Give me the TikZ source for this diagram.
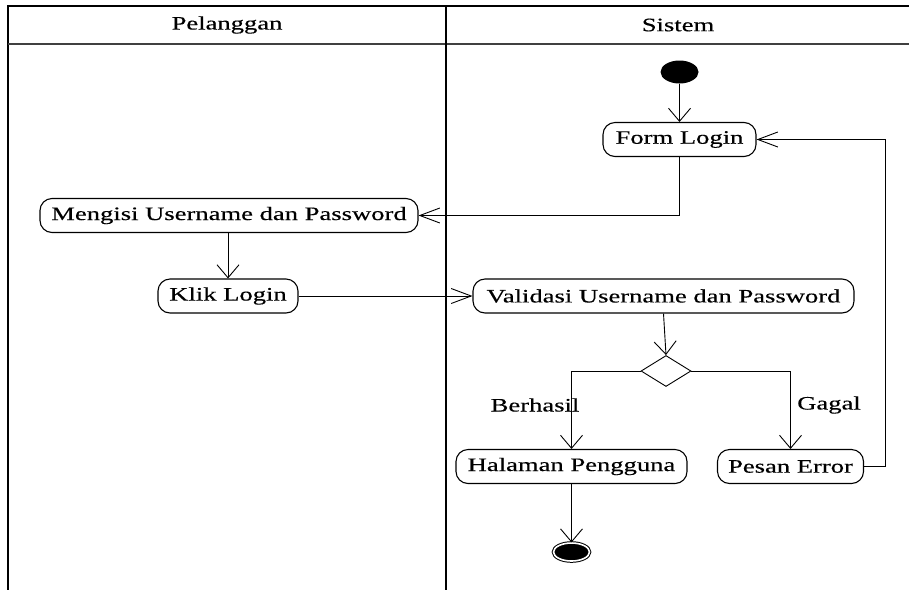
\documentclass[tikz,border=0pt]{standalone}
\usepackage{fontspec}
\usepackage{graphicx}
\setmainfont{Liberation Serif}[FakeBold=0.3]
\usetikzlibrary{arrows.meta,shapes.geometric}

% labels are set a little wider than the font's natural width
\newcommand{\wtext}[1]{\scalebox{1.4}[1]{#1}}

\tikzset{
  lbl/.style={font=\fontsize{19}{22}\selectfont, inner sep=0pt},
  act/.style={draw, rounded corners=12pt, minimum height=34pt, inner sep=0pt,
              line width=1.1pt, font=\fontsize{19}{22}\selectfont},
  lane/.style={line width=1.6pt},
  vconn/.style={line width=0.9pt, -{Straight Barb[length=13pt,width=22pt,line width=0.9pt]}},
  hconn/.style={line width=0.9pt, -{Straight Barb[length=20pt,width=15pt,line width=0.9pt]}},
}

\begin{document}
\begin{tikzpicture}[x=1pt,y=-1pt]
\useasboundingbox (0,0) rectangle (909,590);

% swimlane frame
\draw[lane] (909,6) -- (8,6) -- (8,590);
\draw[lane, black!75] (8,44) -- (909,44);
\draw[lane] (446,6) -- (446,590);
\node[lbl] (hcust) at (227,25) {\wtext{Pelanggan}};
\node[lbl] (hsys)  at (678,25) {\wtext{Sistem}};

% activities
\node[ellipse, fill=black, minimum width=38pt, minimum height=23pt, inner sep=0pt] (start) at (679.5,72) {};
\node[act, minimum width=153pt] (form)    at (679.5,139.5) {\wtext{Form Login}};
\node[act, minimum width=378pt] (mengisi) at (229,215.5) {\wtext{Mengisi Username dan Password}};
\node[act, minimum width=140pt] (klik)    at (228,296) {\wtext{Klik Login}};
\node[act, minimum width=381pt] (valid)   at (663.5,296) {\wtext{Validasi Username dan Password}};
\node[diamond, draw, line width=0.9pt, minimum width=50pt, minimum height=31pt, inner sep=0pt] (dec) at (666,371) {};
\node[act, minimum width=231pt] (halaman) at (571.5,466.5) {\wtext{Halaman Pengguna}};
\node[act, minimum width=146pt] (pesan)   at (790.5,466.5) {\wtext{Pesan Error}};
\node[ellipse, fill=black, draw, double, double distance=1.6pt, line width=1pt,
      minimum width=36pt, minimum height=18pt, inner sep=0pt] (stop) at (571.5,552) {};

% guards
\node[lbl] (gok)   at (535,405) {\wtext{Berhasil}};
\node[lbl] (gfail) at (829,405) {\wtext{Gagal}};

% flows
\coordinate (loopx) at (885,0);
\draw[vconn] (start) -- (form);
\draw[hconn] (form.south) |- (mengisi.east);
\draw[vconn] (mengisi.south -| klik.north) -- (klik.north);
\draw[hconn] (klik.east) -- (valid.west);
\draw[vconn] (valid.south) -- (dec.north);
\draw[vconn] (dec.west) -| (halaman.north);
\draw[vconn] (dec.east) -| (pesan.north);
\draw[vconn] (halaman.south) -- (stop.north);
\draw[hconn] (pesan.east) -- (pesan.east -| loopx) |- (form.east);
\end{tikzpicture}
\end{document}
